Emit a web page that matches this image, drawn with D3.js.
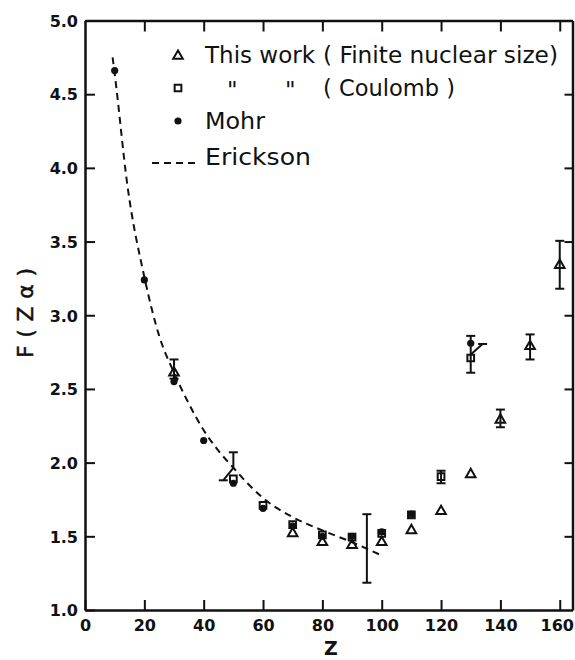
<!DOCTYPE html>
<html>
<head>
<meta charset="utf-8">
<script src="https://cdn.jsdelivr.net/npm/d3@7"></script>
<style>
  body { margin: 0; background: #fff; }
  text { font-family: "DejaVu Sans", sans-serif; fill: #111; }
</style>
</head>
<body>
<div id="chart"></div>
<script>
// values
const zTicks = [0, 20, 40, 60, 80, 100, 120, 140, 160];
const fTicks = [1.0, 1.5, 2.0, 2.5, 3.0, 3.5, 4.0, 4.5, 5.0];

// Mohr (filled dots)
const mohrZ = [10, 20, 30, 40, 50, 60, 70, 80, 90, 100, 110, 130];
const mohrF = [4.66, 3.24, 2.55, 2.15, 1.86, 1.69, 1.57, 1.50, 1.50, 1.53, 1.65, 2.81];

// This work, finite nuclear size (triangles)
const finiteZ = [30, 70, 80, 90, 100, 110, 120, 130, 140, 150, 160];
const finiteF = [2.61, 1.52, 1.46, 1.44, 1.46, 1.54, 1.67, 1.92, 2.29, 2.79, 3.34];

// This work, Coulomb (squares)
const coulombZ = [50, 60, 70, 80, 90, 100, 110, 120, 130];
const coulombF = [1.89, 1.71, 1.58, 1.51, 1.495, 1.52, 1.645, 1.905, 2.71];

// Erickson (dashed curve)
const ericksonZ = [9.3, 10, 14.3, 20, 25, 30, 35, 40, 45, 50, 55, 60, 70, 80, 90, 100];
const ericksonF = [4.75, 4.64, 3.88, 3.26, 2.86, 2.61, 2.40, 2.22, 2.08, 1.965, 1.855, 1.76, 1.63, 1.54, 1.46, 1.37];

// error bars (caps at both ends)
const errZ  = [30, 95, 120, 130, 140, 150, 160];
const errLo = [2.57, 1.185, 1.86, 2.61, 2.24, 2.70, 3.18];
const errHi = [2.70, 1.65, 1.945, 2.86, 2.36, 2.87, 3.505];

// bar at Z=50 with cap on top only
const halfZ  = [50];
const halfLo = [1.965];
const halfHi = [2.07];

// slanted bars (cap at far end)
const slantZ0 = [50, 129.8];
const slantF0 = [1.965, 2.73];
const slantZ1 = [46.6, 134];
const slantF1 = [1.88, 2.805];

(function() {
    const width = 575
    const height = 660

    const svg = d3.select("#chart")
        .append("svg")
        .attr("width", width)
        .attr("height", height)

    const x = d3.scaleLinear().domain([0, 164.3]).range([85, 572.5])
    const y = d3.scaleLinear().domain([1, 5]).range([610, 20.5])

    const axisStyle = function(g) {
        g.select(".domain").attr("stroke", "#111").attr("stroke-width", 2.5)
        g.selectAll(".tick line").attr("stroke", "#111").attr("stroke-width", 2)
        g.selectAll(".tick text")
            .style("font-family", "'DejaVu Sans', sans-serif")
            .style("font-size", "16px")
            .style("font-weight", "bold")
            .attr("fill", "#111")
    }

    // bottom axis with labels, ticks point inward
    svg.append("g")
        .attr("transform", "translate(0,610)")
        .call(d3.axisBottom(x).tickValues(zTicks).tickSize(-10).tickSizeOuter(0).tickPadding(10)
            .tickFormat(d3.format("d")))
        .call(axisStyle)
        .call(g => g.selectAll(".tick text").filter(d => d === 160).attr("dx", "-3"))

    // top axis, no labels
    svg.append("g")
        .attr("transform", "translate(0,20.5)")
        .call(d3.axisTop(x).tickValues(zTicks.slice(1)).tickSize(-11).tickSizeOuter(0).tickFormat(""))
        .call(axisStyle)

    // left axis with labels
    svg.append("g")
        .attr("transform", "translate(85,0)")
        .call(d3.axisLeft(y).tickValues(fTicks).tickSize(-10).tickSizeOuter(0).tickPadding(7)
            .tickFormat(d3.format(".1f")))
        .call(axisStyle)
        .call(g => g.selectAll(".tick text").attr("dy", "0.36em"))

    // right axis
    svg.append("g")
        .attr("transform", "translate(572.5,0)")
        .call(d3.axisRight(y).tickValues(fTicks.slice(1, -1)).tickSize(-8).tickSizeOuter(0).tickFormat(""))
        .call(axisStyle)

    // axis titles
    svg.append("text")
        .attr("x", 331)
        .attr("y", 655)
        .attr("text-anchor", "middle")
        .style("font-size", "19px")
        .style("font-weight", "bold")
        .text("Z")

    svg.append("text")
        .attr("transform", "translate(33,313) rotate(-90)")
        .attr("text-anchor", "middle")
        .attr("textLength", 90)
        .attr("lengthAdjust", "spacing")
        .style("font-size", "22px")
        .style("stroke", "#111")
        .style("stroke-width", 0.5)
        .text("F ( Z α )")

    // Erickson curve
    const ericksonPts = ericksonZ.map((z, i) => [x(z), y(ericksonF[i])])
    svg.append("path")
        .attr("d", d3.line().curve(d3.curveMonotoneX)(ericksonPts))
        .attr("fill", "none")
        .attr("stroke", "#111")
        .attr("stroke-width", 2)
        .attr("stroke-dasharray", "7,5")

    // error bars
    const bars = svg.append("g").attr("stroke", "#111").attr("stroke-width", 2)
    const cap = 4.5
    errZ.forEach(function(z, i) {
        const cx = x(z)
        bars.append("line").attr("x1", cx).attr("x2", cx).attr("y1", y(errLo[i])).attr("y2", y(errHi[i]))
        bars.append("line").attr("x1", cx - cap).attr("x2", cx + cap).attr("y1", y(errLo[i])).attr("y2", y(errLo[i]))
        bars.append("line").attr("x1", cx - cap).attr("x2", cx + cap).attr("y1", y(errHi[i])).attr("y2", y(errHi[i]))
    })
    halfZ.forEach(function(z, i) {
        const cx = x(z)
        bars.append("line").attr("x1", cx).attr("x2", cx).attr("y1", y(halfLo[i])).attr("y2", y(halfHi[i]))
        bars.append("line").attr("x1", cx - cap).attr("x2", cx + cap).attr("y1", y(halfHi[i])).attr("y2", y(halfHi[i]))
    })
    slantZ0.forEach(function(z, i) {
        const ex = x(slantZ1[i]), ey = y(slantF1[i])
        bars.append("line").attr("x1", x(z)).attr("y1", y(slantF0[i])).attr("x2", ex).attr("y2", ey)
        bars.append("line").attr("x1", ex - cap).attr("x2", ex + cap).attr("y1", ey).attr("y2", ey)
    })

    // markers
    const tri = d3.symbol().type(d3.symbolTriangle).size(40)
    const sq = d3.symbol().type(d3.symbolSquare).size(45)

    svg.append("g").selectAll("circle")
        .data(mohrZ)
        .join("circle")
        .attr("cx", d => x(d))
        .attr("cy", (d, i) => y(mohrF[i]))
        .attr("r", 3.6)
        .attr("fill", "#111")

    svg.append("g").selectAll("path")
        .data(coulombZ)
        .join("path")
        .attr("d", sq)
        .attr("transform", (d, i) => "translate(" + x(d) + "," + y(coulombF[i]) + ")")
        .attr("fill", "none")
        .attr("stroke", "#111")
        .attr("stroke-width", 2)

    svg.append("g").selectAll("path")
        .data(finiteZ)
        .join("path")
        .attr("d", tri)
        .attr("transform", (d, i) => "translate(" + x(d) + "," + y(finiteF[i]) + ")")
        .attr("fill", "none")
        .attr("stroke", "#111")
        .attr("stroke-width", 2)

    // legend
    const leg = svg.append("g")
    leg.append("path").attr("d", tri).attr("transform", "translate(178,56)")
        .attr("fill", "none").attr("stroke", "#111").attr("stroke-width", 2)
    leg.append("path").attr("d", sq).attr("transform", "translate(178,88)")
        .attr("fill", "none").attr("stroke", "#111").attr("stroke-width", 2)
    leg.append("circle").attr("cx", 178).attr("cy", 121).attr("r", 3.6).attr("fill", "#111")
    leg.append("line").attr("x1", 152).attr("x2", 200).attr("y1", 163).attr("y2", 163)
        .attr("stroke", "#111").attr("stroke-width", 2).attr("stroke-dasharray", "7,5")

    const legText = function(tx, ty, len, s) {
        const t = leg.append("text")
            .attr("x", tx)
            .attr("y", ty)
            .style("font-size", "23px")
            .text(s)
        if (len) t.attr("textLength", len).attr("lengthAdjust", "spacingAndGlyphs")
    }
    legText(205, 63, 110, "This work")
    legText(323, 63, 235, "( Finite nuclear size)")
    legText(227, 98, 0, "\"")
    legText(285, 98, 0, "\"")
    legText(323, 96, 132, "( Coulomb )")
    legText(205, 129, 60, "Mohr")
    legText(205, 165, 106, "Erickson")
})();
</script>
</body>
</html>
